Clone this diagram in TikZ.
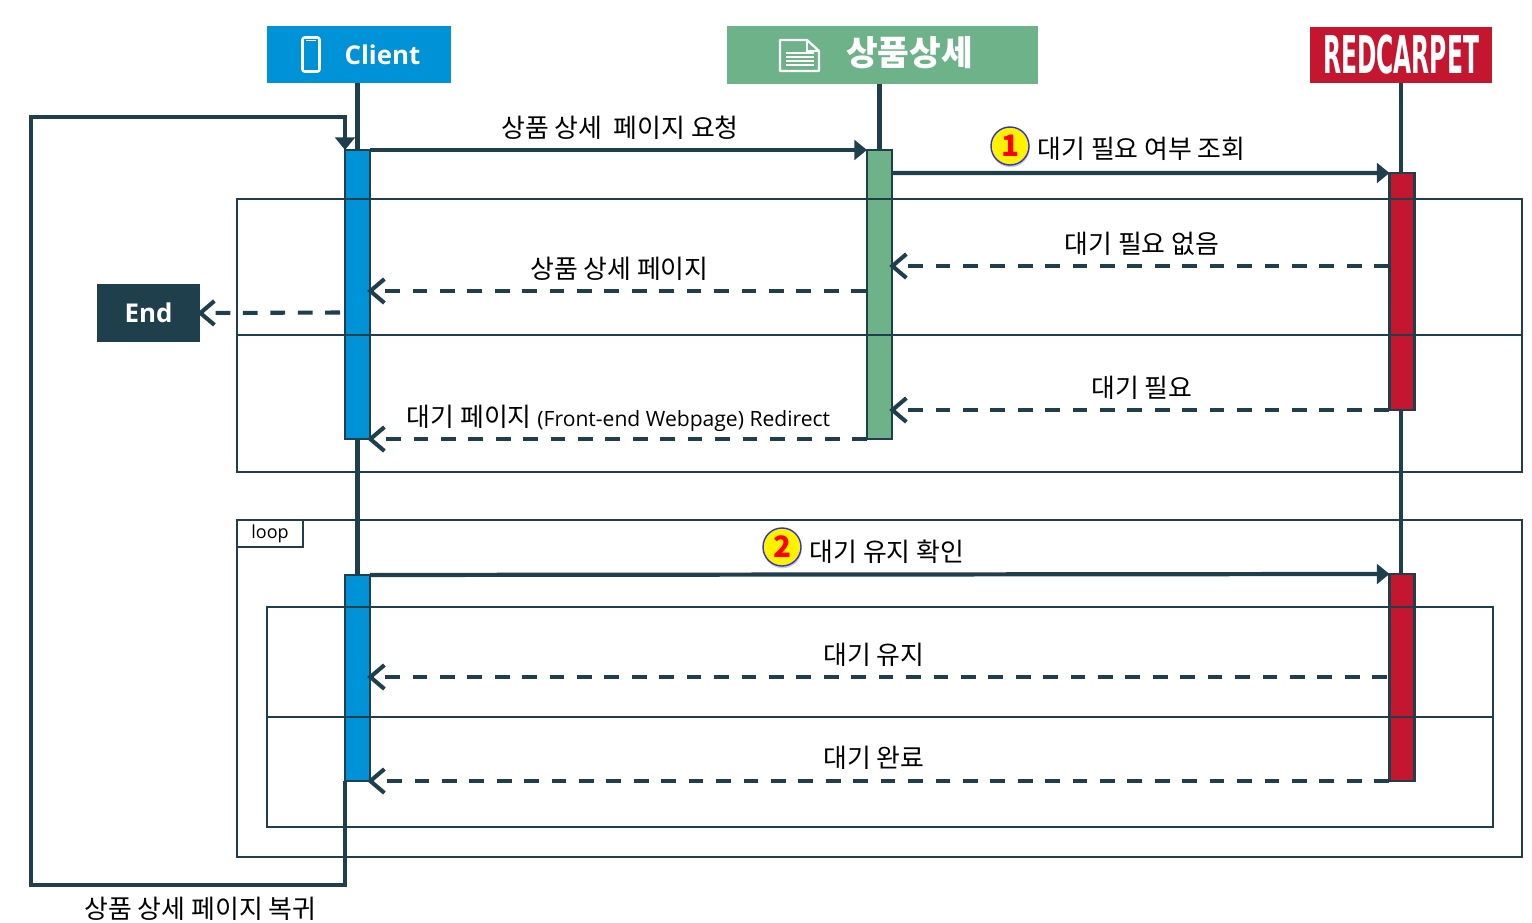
\documentclass[tikz,border=0pt]{standalone}
\usepackage{fontspec}
\setmainfont{Noto Sans CJK KR}
\newfontfamily\latinfont{Open Sans}
\newfontfamily\carpetfont{DejaVu Sans}
\usepackage{tikz}
\usetikzlibrary{arrows.meta, positioning, shapes.geometric, calc, shadows}
\usepackage{xcolor}
\definecolor{seqdark}{RGB}{31,63,77}
\definecolor{clientblue}{RGB}{0,146,214}
\definecolor{detailgreen}{RGB}{109,178,137}
\definecolor{carpetred}{RGB}{196,22,47}

\begin{document}
\begin{tikzpicture}[
  x=0.025cm, y=-0.025cm,
  headbox/.style={rectangle, inner sep=0pt, outer sep=0pt, minimum height=1.425cm},
  headtext/.style={inner sep=0pt, text=white, font=\latinfont\fontsize{18.4pt}{20pt}\selectfont\bfseries},
  lifebar/.style={draw=seqdark, line width=2pt, rectangle, inner sep=0pt, outer sep=0pt, minimum width=0.625cm},
  lifeline/.style={seqdark, line width=2.9pt},
  frame/.style={draw=seqdark, line width=1.1pt, rectangle, inner sep=0pt, outer sep=0pt},
  frameline/.style={seqdark, line width=1.1pt},
  callarrow/.style={seqdark, line width=3pt, -{Triangle[length=9pt, width=14pt]}},
  replyarrow/.style={seqdark, line width=2.9pt, dash pattern=on 10.5pt off 9pt, shorten >=-2pt, -{Straight Barb[length=10pt, width=17pt, line width=2.9pt]}},
  msg/.style={inner sep=0pt, text=black, xshift=1pt, font=\fontsize{18.4pt}{20pt}\selectfont},
  badge/.style={circle, draw=blue!60!gray, line width=1pt, fill=yellow, inner sep=0pt, outer sep=0pt, minimum size=0.95cm,
    text=red, font=\fontsize{21pt}{22pt}\selectfont\bfseries, drop shadow={shadow xshift=0.4pt, shadow yshift=-1.6pt, opacity=0.4}}
]
\useasboundingbox (0,0) rectangle (1532,922);

% Participants
\node[headbox, fill=clientblue, minimum width=4.6cm] (client) at (359,54.5) {};
\node[headbox, fill=detailgreen, minimum width=7.775cm] (detail) at (882.5,55) {};
\node[headbox, fill=carpetred, minimum width=4.55cm, minimum height=1.4cm] (carpet) at (1401,55) {};
\node[headtext] (clientname) at (382.5,55) {Client};
\node[headtext, font=\fontsize{24.5pt}{26pt}\selectfont\bfseries] (detailname) at (909.5,53) {상품상세};
\node[headtext, font=\carpetfont\fontsize{37pt}{38pt}\selectfont\bfseries] (carpetname) at (1401,55) {\scalebox{0.45}[1]{REDCARPET}};

% Icons
\draw[white, line width=1.8pt, rounded corners=1.5pt] (302.5,37.5) rectangle (319.5,71.5);
\draw[white, line width=1.2pt] (306,40.5) -- (316,40.5);
\draw[white, line width=1.6pt, line join=round] (780,40) -- (807,40) -- (819,51) -- (819,71) -- (780,71) -- cycle;
\draw[white, line width=1.2pt] (807,40) -- (807,51) -- (819,51);
\foreach \y in {53,57,61,65}
  \draw[white, line width=1pt] (786,\y) -- (814,\y);

% Activation bars
\node[lifebar, fill=clientblue, minimum height=7.225cm] (clientbar) at (357.5,294.5) {};
\node[lifebar, fill=detailgreen, minimum height=7.225cm] (detailbar) at (879.5,294.5) {};
\node[lifebar, fill=carpetred, minimum height=5.925cm] (carpetbar) at (1402,291.5) {};
\node[lifebar, fill=clientblue, minimum height=5.15cm] (loopbar) at (357.5,678) {};
\node[lifebar, fill=carpetred, minimum height=5.175cm] (waitbar) at (1402,677.5) {};

% Lifelines
\draw[lifeline] (clientbar.north |- client.south) -- (clientbar.north);
\draw[lifeline] (clientbar.south) -- (loopbar.north);
\draw[lifeline] (detailbar.north |- detail.south) -- (detailbar.north);
\draw[lifeline] (carpet.south) -- (carpet.south |- carpetbar.north);
\draw[lifeline] (carpet.south |- carpetbar.south) -- (carpet.south |- waitbar.north);

% Frames
\node[frame, minimum width=32.125cm, minimum height=6.825cm] (altframe) at (879.5,335.5) {};
\node[frame, minimum width=32.125cm, minimum height=8.425cm] (loopframe) at (879.5,688.5) {};
\node[frame, minimum width=30.65cm, minimum height=5.5cm] (innerframe) at (880,717) {};
\node[frame, minimum width=1.65cm, minimum height=0.675cm, font=\latinfont\fontsize{12.8pt}{14pt}\selectfont] (looptab) at (270,533.5) {\raisebox{-0.7pt}{loop}};
\coordinate (altsplit) at (237,335);
\draw[frameline] (altsplit) -- (altsplit -| altframe.east);
\draw[frameline] (innerframe.west) -- (innerframe.east);

% End
\node[rectangle, fill=seqdark, inner sep=0pt, outer sep=0pt, minimum width=2.575cm, minimum height=1.45cm, text=white,
  font=\latinfont\fontsize{18.4pt}{20pt}\selectfont\bfseries] (finish) at (148.5,313) {End};

% Messages, first block
\draw[callarrow] (clientbar.north east) -- node[msg, midway, above=6pt] {상품 상세~ 페이지 요청} (detailbar.north west);
\coordinate (askfrom) at (892,173);
\draw[callarrow] (askfrom) -- (carpetbar.north west);
\node[badge] (firstbadge) at (1010,146) {1};
\node[msg, right=5pt of firstbadge.east, anchor=west, yshift=-2pt] (asktext) {대기 필요 여부 조회};

\coordinate (nowaitfrom) at (1389,266);
\draw[replyarrow] (nowaitfrom) -- node[msg, midway, above=6pt] {대기 필요 없음} (nowaitfrom -| detailbar.east);
\coordinate (pagefrom) at (866,291);
\draw[replyarrow] (pagefrom) -- node[msg, midway, above=6pt] {상품 상세 페이지} (pagefrom -| clientbar.east);
\coordinate (endfrom) at (340,312.5);
\draw[replyarrow] (endfrom) -- (finish.east);
\coordinate (waitfrom) at (1389,410);
\draw[replyarrow] (waitfrom) -- node[msg, midway, above=6pt] {대기 필요} (waitfrom -| detailbar.east);
\draw[replyarrow] (detailbar.south west) -- node[msg, midway, above=4.2pt, xshift=-1pt] {대기 페이지 {\latinfont\fontsize{15pt}{17pt}\selectfont (Front-end Webpage) Redirect}} (clientbar.south east);

% Messages, loop block
\draw[callarrow] (loopbar.north east) -- (waitbar.north west);
\node[badge] (secondbadge) at (782,547) {2};
\node[msg, right=5pt of secondbadge.east, anchor=west, yshift=-3pt] (holdtext) {대기 유지 확인};
\coordinate (keepfrom) at (1387,677);
\draw[replyarrow] (keepfrom) -- node[msg, pos=0.506, above=6pt] {대기 유지} (keepfrom -| loopbar.east);
\coordinate (donefrom) at (1389,781);
\draw[replyarrow] (donefrom) -- node[msg, pos=0.507, above=7pt] {대기 완료} (donefrom -| loopbar.east);

% Way back to the page
\coordinate (backcorner) at (31,885);
\coordinate (backtop) at (31,117);
\draw[seqdark, line width=3pt, line join=miter, -{Triangle[length=9pt, width=14pt]}] (loopbar.south west) -- (loopbar.south west |- backcorner)
  -- node[msg, pos=0.465, below=7pt, text=black] {상품 상세 페이지 복귀} (backcorner) -- (backtop) -- (backtop -| clientbar.north west) -- (clientbar.north west);

\end{tikzpicture}
\end{document}
